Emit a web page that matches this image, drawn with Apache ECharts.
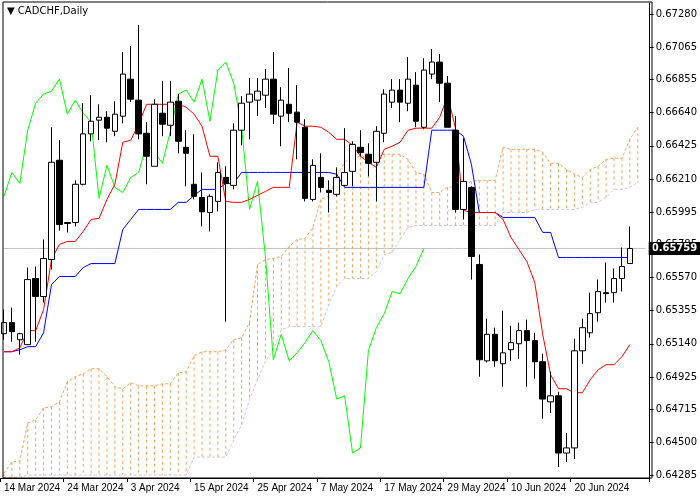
<!DOCTYPE html>
<head>
    <meta charset="utf-8">
    <title>CADCHF Daily</title>
    <style>
    html,body { height:100%; width:100%; margin:0; background:white; padding:0; }
    #main { width:700px; height:500px; }
    </style>
</head>
<body>
    <div id="main"></div>
    <script src="https://cdn.jsdelivr.net/npm/echarts@6/dist/echarts.min.js"></script>
    <script type="text/javascript">
    // candles: open, close, low, high
    var opens  = [0.65206,0.65278,0.65167,0.65135,0.65564,0.65447,0.65687,0.66331,0.65927,0.65927,
                  0.66175,0.66502,0.66591,0.66610,0.66519,0.66617,0.66857,0.66721,0.66506,0.66292,
                  0.66636,0.66558,0.66714,0.66415,0.66175,0.66090,0.65992,0.66064,0.66220,0.66168,
                  0.66526,0.66708,0.66721,0.66753,0.66857,0.66617,0.66694,0.66643,0.66545,0.66077,
                  0.66220,0.66136,0.66110,0.66168,0.66259,0.66415,0.66370,0.66318,0.66506,0.66708,
                  0.66786,0.66701,0.66818,0.66545,0.66890,0.66968,0.66831,0.66526,0.66012,0.66155,
                  0.65655,0.65030,0.65202,0.65011,0.65102,0.65141,0.65226,0.65161,0.65024,0.64764,
                  0.64803,0.64432,0.64465,0.65095,0.65212,0.65342,0.65472,0.65472,0.65564,0.65661];
    var closes = [0.65278,0.65219,0.65206,0.65557,0.65447,0.65694,0.66318,0.65914,0.65921,0.66175,
                  0.66502,0.66584,0.66610,0.66539,0.66630,0.66890,0.66727,0.66502,0.66357,0.66694,
                  0.66565,0.66708,0.66454,0.66376,0.66097,0.65997,0.66097,0.66252,0.66181,0.66526,
                  0.66701,0.66760,0.66779,0.66857,0.66630,0.66721,0.66636,0.66578,0.66084,0.66298,
                  0.66155,0.66122,0.66220,0.66252,0.66434,0.66382,0.66311,0.66519,0.66760,0.66786,
                  0.66708,0.66857,0.66584,0.66916,0.66968,0.66831,0.66545,0.66012,0.66194,0.65707,
                  0.65037,0.65202,0.65030,0.65082,0.65148,0.65226,0.65161,0.65024,0.64782,0.64803,
                  0.64432,0.64465,0.65095,0.65245,0.65336,0.65479,0.65466,0.65564,0.65642,0.65759];
    var lows   = [0.65167,0.65154,0.65070,0.65135,0.65154,0.65408,0.65622,0.65875,0.65862,0.65902,
                  0.66168,0.66454,0.66461,0.66448,0.66487,0.66571,0.66708,0.66467,0.66175,0.66292,
                  0.66487,0.66487,0.66376,0.66162,0.66077,0.65902,0.65869,0.65999,0.65284,0.66142,
                  0.66428,0.66467,0.66617,0.66669,0.66565,0.66422,0.66578,0.66337,0.66064,0.66064,
                  0.66122,0.65992,0.66097,0.66162,0.66162,0.66357,0.66227,0.66064,0.66448,0.66669,
                  0.66578,0.66649,0.66545,0.66532,0.66857,0.66708,0.66545,0.65992,0.65947,0.65557,
                  0.64927,0.65018,0.64992,0.64862,0.65030,0.65043,0.64862,0.64914,0.64654,0.64692,
                  0.64342,0.64374,0.64394,0.65011,0.65180,0.65284,0.65408,0.65408,0.65479,0.65661];
    var highs  = [0.65362,0.65375,0.65212,0.65635,0.65642,0.65817,0.66545,0.66461,0.65927,0.66201,
                  0.66701,0.66753,0.66694,0.66649,0.66714,0.67032,0.67072,0.67208,0.66578,0.66727,
                  0.66844,0.66844,0.66760,0.66526,0.66500,0.66252,0.66110,0.66318,0.66292,0.66571,
                  0.66747,0.66864,0.66864,0.66922,0.67032,0.66805,0.66929,0.66818,0.66597,0.66337,
                  0.66376,0.66201,0.66285,0.66539,0.66454,0.66526,0.66441,0.66552,0.66792,0.66857,
                  0.66857,0.67000,0.66903,0.66993,0.67052,0.67020,0.66877,0.66617,0.66474,0.66162,
                  0.65720,0.65304,0.65245,0.65356,0.65258,0.65278,0.65297,0.65212,0.65076,0.64959,
                  0.64829,0.64562,0.65174,0.65304,0.65472,0.65557,0.65668,0.65629,0.65765,0.65902];

    var tenkan = [0.65089,0.65089,0.65115,0.65226,0.65226,0.65362,0.65687,0.65785,0.65804,0.65804,
                  0.65869,0.65947,0.65954,0.66077,0.66175,0.66448,0.66461,0.66565,0.66694,0.66694,
                  0.66694,0.66694,0.66694,0.66675,0.66630,0.66552,0.66357,0.66357,0.66064,0.66058,
                  0.66058,0.66077,0.66103,0.66129,0.66155,0.66155,0.66155,0.66578,0.66552,0.66552,
                  0.66545,0.66512,0.66467,0.66467,0.66428,0.66357,0.66318,0.66285,0.66402,0.66422,
                  0.66448,0.66526,0.66539,0.66539,0.66539,0.66610,0.66747,0.66539,0.66006,0.65992,
                  0.65992,0.65992,0.65992,0.65947,0.65830,0.65752,0.65674,0.65538,0.65202,0.64940,
                  0.64849,0.64849,0.64823,0.64823,0.64907,0.64972,0.65005,0.65005,0.65057,0.65135];
    var kijun  = [0.65089,0.65089,0.65102,0.65122,0.65122,0.65212,0.65525,0.65577,0.65577,0.65577,
                  0.65635,0.65661,0.65661,0.65661,0.65661,0.65882,0.65947,0.66012,0.66012,0.66012,
                  0.66012,0.66012,0.66058,0.66058,0.66103,0.66142,0.66142,0.66142,0.66181,0.66181,
                  0.66252,0.66252,0.66252,0.66252,0.66252,0.66252,0.66252,0.66252,0.66252,0.66252,
                  0.66252,0.66252,0.66240,0.66155,0.66155,0.66155,0.66155,0.66155,0.66155,0.66155,
                  0.66155,0.66155,0.66155,0.66155,0.66526,0.66526,0.66526,0.66526,0.66487,0.66305,
                  0.65992,0.65992,0.65992,0.65960,0.65960,0.65960,0.65960,0.65960,0.65863,0.65863,
                  0.65700,0.65700,0.65700,0.65700,0.65700,0.65700,0.65700,0.65700,0.65700,0.65700];
    var senkouA = [0.64302,0.64374,0.64380,0.64627,0.64647,0.64725,0.64732,0.64764,0.64894,0.64927,
                   0.64946,0.64979,0.64979,0.64927,0.64862,0.64849,0.64888,0.64868,0.64868,0.64868,
                   0.64881,0.64881,0.64952,0.64959,0.65063,0.65089,0.65089,0.65089,0.65102,0.65167,
                   0.65180,0.65278,0.65655,0.65687,0.65694,0.65707,0.65772,0.65817,0.65824,0.65895,
                   0.66077,0.66097,0.66227,0.66318,0.66357,0.66357,0.66350,0.66350,0.66370,0.66370,
                   0.66370,0.66337,0.66252,0.66240,0.66122,0.66122,0.66155,0.66162,0.66162,0.66194,
                   0.66201,0.66201,0.66201,0.66415,0.66402,0.66402,0.66402,0.66402,0.66382,0.66311,
                   0.66311,0.66272,0.66240,0.66220,0.66272,0.66292,0.66337,0.66344,0.66344,0.66467,
                   0.66545];
    var senkouB = [0.64276,0.64276,0.64276,0.64289,0.64289,0.64289,0.64289,0.64289,0.64289,0.64289,
                   0.64289,0.64289,0.64289,0.64289,0.64289,0.64289,0.64289,0.64289,0.64289,0.64289,
                   0.64289,0.64289,0.64289,0.64289,0.64406,0.64406,0.64406,0.64406,0.64406,0.64517,
                   0.64615,0.64777,0.64907,0.65024,0.65102,0.65232,0.65252,0.65252,0.65252,0.65252,
                   0.65252,0.65394,0.65512,0.65564,0.65564,0.65564,0.65564,0.65609,0.65720,0.65733,
                   0.65817,0.65895,0.65908,0.65908,0.65908,0.65908,0.65908,0.65908,0.65908,0.65908,
                   0.65908,0.65908,0.65908,0.65992,0.65992,0.65992,0.65992,0.66012,0.66012,0.66012,
                   0.66012,0.66012,0.66012,0.66025,0.66058,0.66058,0.66090,0.66142,0.66142,0.66155,
                   0.66188];

    var priceTicks = [0.64285,0.64500,0.64715,0.64925,0.65140,0.65355,0.65570,0.65785,
                      0.65995,0.66210,0.66425,0.66640,0.66855,0.67065,0.67280];
    var dateTickIdx = [0,8,16,24,32,40,48,56,64,72];
    var dateTickText = ['14 Mar 2024','24 Mar 2024','3 Apr 2024','15 Apr 2024','25 Apr 2024',
                        '7 May 2024','17 May 2024','29 May 2024','10 Jun 2024','20 Jun 2024'];
    var lastPrice = 0.65759;
    var chikouShift = 26;
    var nSlots = 82;

    var cats = [];
    for (var i = 0; i < nSlots; i++) cats.push(String(i));

    var candles = [];
    for (var i = 0; i < closes.length; i++) candles.push([opens[i], closes[i], lows[i], highs[i]]);

    // lagging span = close plotted 26 bars back
    var chikou = [];
    for (var i = chikouShift; i < closes.length; i++) chikou.push(closes[i]);

    var cloud = [];
    for (var i = 0; i < senkouA.length; i++) cloud.push([i, senkouA[i], senkouB[i]]);

    // bid line across the whole chart
    var bidLine = [];
    for (var i = 0; i < nSlots; i++) bidLine.push(lastPrice);

    var myChart = echarts.init(document.getElementById('main'));
    var option = {
        animation: false,
        backgroundColor: '#fff',
        grid: { left: -1, width: 656, top: 3, height: 475 },
        xAxis: {
            type: 'category', data: cats, boundaryGap: true,
            axisLine: { show: true, lineStyle: { color: '#000' } },
            axisTick: { show: true, length: 4, lineStyle: { color: '#000' },
                interval: function (idx) { return dateTickIdx.indexOf(idx) >= 0; } },
            axisLabel: { show: true, align: 'left', margin: 5, fontSize: 10, color: '#000',
                fontFamily: 'Liberation Sans',
                interval: function (idx) { return dateTickIdx.indexOf(idx) >= 0; },
                formatter: function (v, idx) { var k = dateTickIdx.indexOf(idx); return k >= 0 ? dateTickText[k] : ''; } },
            splitLine: { show: false }
        },
        yAxis: {
            type: 'value', position: 'right', scale: true,
            min: 0.64270, max: 0.67351,
            axisLine: { show: true, lineStyle: { color: '#000' } },
            axisTick: { show: true, length: 4, customValues: priceTicks, lineStyle: { color: '#000' } },
            axisLabel: { customValues: priceTicks, fontSize: 10, color: '#000', margin: 6,
                fontFamily: 'DejaVu Sans',
                formatter: function (v) { return v.toFixed(5); } },
            splitLine: { show: false }
        },
        graphic: [
            { type: 'rect', shape: { x: 3, y: 2, width: 649, height: 476 }, silent: true, z: 100,
              style: { fill: 'none', stroke: '#000', lineWidth: 1 } },
            { type: 'text', left: 7, top: 6, z: 101,
              style: { text: '\u25BC CADCHF,Daily', fontSize: 10, fill: '#000', fontFamily: 'DejaVu Sans' } }
        ],
        series: [
            { type: 'line', name: 'Bid', data: bidLine, symbol: 'none', z: 0,
              lineStyle: { color: '#c0c0c0', width: 1 },
              endLabel: { show: true, distance: 3, color: '#fff', backgroundColor: '#000',
                  fontSize: 10, fontWeight: 'bold', fontFamily: 'DejaVu Sans', padding: [2, 3, 1, 3],
                  formatter: function () { return lastPrice.toFixed(5); } } },
            {
                type: 'custom', name: 'cloud', z: 1,
                renderItem: function (params, api) {
                    var a = api.coord([api.value(0), api.value(1)]);
                    var b = api.coord([api.value(0), api.value(2)]);
                    return { type: 'line', shape: { x1: a[0], y1: a[1], x2: b[0], y2: b[1] },
                        style: { stroke: '#f4a460', lineWidth: 1, lineDash: [3, 3] } };
                },
                encode: { x: 0, y: [1, 2] },
                data: cloud
            },
            { type: 'line', name: 'Senkou A', data: senkouA, symbol: 'none', z: 2,
              lineStyle: { color: '#f4a460', width: 1, type: [3, 2] } },
            { type: 'line', name: 'Senkou B', data: senkouB, symbol: 'none', z: 2,
              lineStyle: { color: '#d8bfd8', width: 1, type: [3, 2] } },
            { type: 'line', name: 'Chikou', data: chikou, symbol: 'none', z: 3,
              lineStyle: { color: '#00ff00', width: 1 } },
            { type: 'line', name: 'Kijun', data: kijun, symbol: 'none', z: 3,
              lineStyle: { color: '#0000ff', width: 1 } },
            { type: 'line', name: 'Tenkan', data: tenkan, symbol: 'none', z: 3,
              lineStyle: { color: '#ff0000', width: 1 } },
            {
                type: 'candlestick', name: 'CADCHF', data: candles, barWidth: 6, z: 5,
                itemStyle: { color: '#fff', color0: '#000', borderColor: '#000', borderColor0: '#000', borderWidth: 1 }
            }
        ]
    };
    myChart.setOption(option, true);
    </script>
</body>
